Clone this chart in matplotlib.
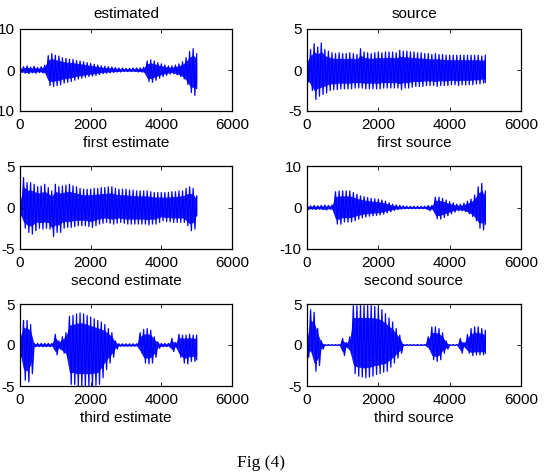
import numpy as np
import matplotlib
matplotlib.use("Agg")
import matplotlib.pyplot as plt

plt.rcParams['font.family'] = ['Liberation Sans', 'DejaVu Sans']
plt.rcParams['axes.unicode_minus'] = False

# sample positions of the envelope readings (every 100 samples)
samples = list(range(0, 5001, 100))

# --- envelopes (upper / lower peaks) ---
est1_up = [0.6,0.8,1.0,0.7,0.9,0.6,0.8,1.2,3.5,4.0,3.6,3.4,3.0,2.8,2.6,2.6,2.3,2.2,2.0,1.8,1.6,1.4,1.2,1.0,0.9,0.8,0.7,0.6,0.5,0.5,0.4,0.4,0.5,0.5,0.5,0.7,2.2,2.5,2.2,1.8,1.5,1.2,1.0,1.0,1.2,1.5,2.0,3.0,4.5,5.2,4.0]
est1_lo = [-0.6,-0.8,-0.9,-0.7,-0.8,-0.6,-0.7,-1.0,-3.8,-4.0,-3.8,-3.6,-3.2,-3.0,-2.8,-2.5,-2.2,-2.0,-1.8,-1.6,-1.5,-1.3,-1.1,-0.9,-0.8,-0.7,-0.6,-0.5,-0.5,-0.4,-0.4,-0.4,-0.4,-0.5,-0.5,-0.7,-2.8,-3.0,-2.5,-2.0,-1.6,-1.3,-1.0,-0.9,-1.2,-1.6,-2.2,-3.5,-5.5,-6.2,-4.5]

src1_up = [1.5,2.5,3.2,2.8,3.3,2.5,2.3,2.1,2.0,2.1,2.0,2.0,2.1,2.0,1.9,2.6,2.2,2.1,2.0,2.1,2.2,2.1,2.2,2.2,2.2,2.1,2.4,2.3,2.3,2.2,2.2,2.1,2.1,2.0,2.0,1.9,2.0,1.9,1.9,1.8,1.8,1.8,1.8,1.8,1.8,1.8,1.8,1.8,1.8,1.7,1.8]
src1_lo = [-1.5,-2.5,-3.6,-3.2,-3.0,-2.8,-2.5,-2.4,-2.4,-2.3,-2.3,-2.3,-2.3,-2.2,-2.2,-2.2,-2.3,-2.3,-2.3,-2.3,-2.3,-2.2,-2.2,-2.2,-2.2,-2.2,-2.4,-2.2,-2.2,-2.1,-2.0,-2.0,-2.0,-1.9,-1.9,-1.9,-2.0,-1.9,-1.9,-1.9,-1.8,-1.8,-1.9,-1.8,-1.8,-1.8,-1.8,-1.7,-1.7,-1.6,-1.5]

est2_up = [1.0,3.6,3.0,3.0,2.8,2.5,2.6,2.8,2.4,2.0,2.8,2.5,2.6,2.7,2.8,2.6,2.5,2.3,2.2,2.2,2.2,2.3,2.3,2.4,2.4,2.5,2.5,2.3,2.2,2.2,2.2,2.1,2.1,2.0,2.0,2.0,2.0,1.9,1.8,1.8,1.8,1.8,1.8,1.9,1.9,2.0,2.0,2.3,2.5,2.3,1.4]
est2_lo = [-1.0,-2.5,-3.0,-3.2,-2.8,-2.5,-2.6,-2.5,-2.6,-3.5,-3.0,-3.0,-2.5,-2.4,-2.4,-2.3,-2.2,-2.2,-2.2,-2.3,-2.4,-2.2,-2.0,-1.9,-1.8,-1.9,-2.0,-1.9,-1.8,-1.9,-2.0,-2.0,-2.0,-2.0,-2.0,-2.0,-2.1,-2.0,-2.0,-1.8,-1.6,-1.7,-1.7,-1.8,-1.8,-1.8,-1.8,-2.2,-2.8,-2.6,-1.0]

src2_up = [0.5,0.4,0.5,0.4,0.5,0.6,0.5,0.6,3.8,4.0,4.0,4.0,4.0,3.6,3.2,2.8,2.6,2.4,2.2,2.1,2.0,1.8,1.5,1.1,0.8,0.6,0.5,0.4,0.3,0.3,0.3,0.3,0.3,0.3,0.5,0.5,2.5,2.5,2.2,1.8,1.4,1.1,0.8,0.8,1.0,1.5,2.0,3.0,5.0,5.8,4.0]
src2_lo = [-0.5,-0.4,-0.5,-0.4,-0.5,-0.6,-0.4,-0.6,-4.0,-4.0,-3.5,-3.5,-3.5,-3.2,-2.8,-2.5,-2.3,-2.1,-2.0,-1.9,-1.8,-1.6,-1.3,-1.0,-0.7,-0.5,-0.4,-0.3,-0.3,-0.3,-0.3,-0.3,-0.3,-0.3,-0.8,-0.5,-2.7,-2.8,-2.4,-2.0,-1.5,-1.1,-0.8,-0.8,-1.0,-1.5,-2.2,-3.2,-5.0,-5.4,-4.0]

est3_up = [1.4,3.0,3.0,2.5,0.2,0.2,0.2,0.2,0.2,0.2,1.3,0.5,1.0,1.5,3.5,3.6,3.8,3.9,3.8,3.6,3.4,3.2,3.0,2.8,2.5,2.0,1.5,0.5,0.15,0.15,0.15,0.15,0.15,0.15,1.5,1.9,2.0,1.8,1.0,0.4,0.2,0.2,0.2,0.8,0.3,1.3,1.2,1.2,1.3,1.2,1.2]
est3_lo = [-1.4,-4.3,-4.5,-3.5,-0.2,-0.2,-0.2,-0.2,-0.2,-0.2,-1.2,-0.5,-1.0,-1.5,-4.8,-4.8,-5.0,-5.0,-5.0,-5.0,-5.0,-4.9,-4.8,-4.0,-3.0,-2.2,-1.5,-0.5,-0.15,-0.15,-0.15,-0.15,-0.15,-0.15,-1.0,-2.2,-2.3,-2.2,-1.5,-0.4,-0.2,-0.2,-0.2,-0.8,-0.3,-1.5,-2.2,-2.3,-2.0,-2.0,-1.8]

src3_up = [1.2,4.3,4.0,2.0,0.5,0.05,0.05,0.05,0.05,0.05,0.8,0.3,1.0,4.8,4.8,4.8,4.8,4.8,4.8,4.7,4.6,4.3,3.8,3.3,2.8,2.0,1.2,0.05,0.05,0.05,0.05,0.05,0.05,0.05,1.0,2.2,2.2,2.0,1.5,0.5,0.05,0.05,0.05,0.8,0.3,1.3,2.0,2.2,2.2,2.0,1.8]
src3_lo = [-1.5,-1.0,-3.2,-2.5,-0.5,-0.05,-0.05,-0.05,-0.05,-0.05,-1.3,-0.3,-1.0,-3.5,-3.8,-3.9,-4.0,-3.9,-3.8,-3.6,-3.5,-3.3,-3.2,-2.7,-2.2,-1.6,-1.0,-0.05,-0.05,-0.05,-0.05,-0.05,-0.05,-0.05,-0.5,-1.8,-2.0,-1.8,-1.0,-0.5,-0.05,-0.05,-0.05,-1.0,-0.3,-1.0,-1.3,-1.2,-1.2,-1.2,-1.0]

titles = ["estimated", "source", "", "", "", ""]
xlabels = ["first estimate", "first source", "second estimate",
           "second source", "third estimate", "third source"]
ylims = [10, 5, 5, 10, 5, 5]
series = [(est1_up, est1_lo), (src1_up, src1_lo), (est2_up, est2_lo),
          (src2_up, src2_lo), (est3_up, est3_lo), (src3_up, src3_lo)]

W, H = 544, 474
fig = plt.figure(figsize=(W / 100, H / 100), dpi=100)

lefts = [20, 307]
widths = [212, 214]
rows = [(29, 111), (166, 249), (304, 386)]

fs = 11
for i, (up, lo) in enumerate(series):
    r, c = divmod(i, 2)
    top, bot = rows[r]
    ax = fig.add_axes([lefts[c] / W, 1 - bot / H, widths[c] / W, (bot - top) / H])
    x = np.array(samples, dtype=float)
    up = np.array(up)
    lo = np.array(lo)
    ax.fill_between(x, lo * 0.7, up * 0.7, color='#0000ff', lw=0, alpha=0.9)
    xs = np.empty(2 * len(x))
    ys = np.empty(2 * len(x))
    xs[0::2] = x
    xs[1::2] = np.minimum(x + 50, 5000)
    ys[0::2] = up
    ys[1::2] = lo
    ax.plot(xs, ys, color='#0000ff', lw=0.9)
    L = ylims[i]
    ax.set_xlim(0, 6000)
    ax.set_ylim(-L, L)
    ax.set_xticks([0, 2000, 4000, 6000])
    ax.set_yticks([-L, 0, L])
    ax.tick_params(direction='in', length=3, width=0.6, labelsize=fs,
                   top=True, right=True)
    ax.tick_params(axis='x', pad=5)
    ax.tick_params(axis='y', pad=4)
    for s in ax.spines.values():
        s.set_linewidth(0.9)
    ax.set_xlabel(xlabels[i], fontsize=fs, labelpad=3)
    if titles[i]:
        ax.set_title(titles[i], fontsize=fs, pad=8)

fig.text(261 / W, 1 - 463 / H, "Fig (4)", ha='center', va='center',
         fontsize=12.5, family=['Liberation Serif', 'DejaVu Serif'])

fig.savefig("out.png", dpi=100)
